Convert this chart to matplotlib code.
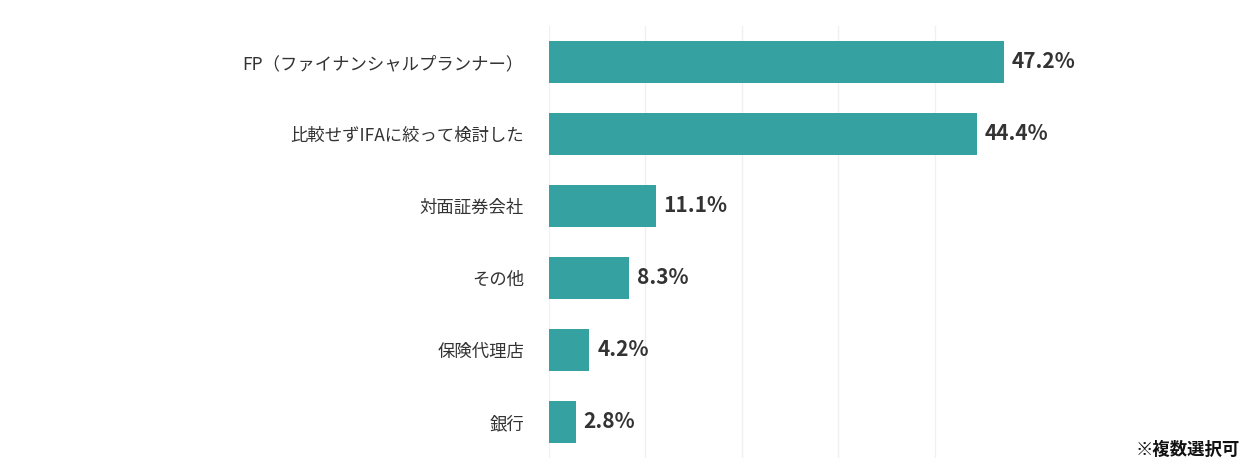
import matplotlib
matplotlib.use("Agg")
import matplotlib.pyplot as plt

categories = ["FP（ファイナンシャルプランナー）", "比較せずIFAに絞って検討した", "対面証券会社", "その他", "保険代理店", "銀行"]
values = [47.2, 44.4, 11.1, 8.3, 4.2, 2.8]

plt.rcParams['font.family'] = ['Noto Sans CJK JP', 'DejaVu Sans']
fig = plt.figure(figsize=(12.6, 4.73), dpi=100)
ax = fig.add_axes([549/1260, 15/473, 711/1260, 432/473])
y = list(range(len(categories)))
ax.barh(y, values, height=0.58, color="#35a2a1", zorder=3)
ax.set_xlim(0, 711/9.64)
ax.set_ylim(5.5, -0.5)
ax.set_xticks([0, 10, 20, 30, 40])
ax.xaxis.grid(True, color="#f0f0f0", linewidth=1, zorder=0)
ax.tick_params(axis='x', length=0, labelbottom=False)
ax.tick_params(axis='y', length=0, pad=18)
ax.set_yticks(y)
ax.set_yticklabels(categories, fontsize=12.5, color="#333333")
for s in ax.spines.values():
    s.set_visible(False)
for yi, v in zip(y, values):
    ax.text(v + 0.8, yi, f"{v}%", va='center', ha='left', fontsize=15, fontweight='bold', color="#333333")
fig.text(1240/1260, 1 - 450/473, "※複数選択可", ha='right', va='center', fontsize=12.5, fontweight='bold', color="#111111")
fig.savefig("out.png", dpi=100)
